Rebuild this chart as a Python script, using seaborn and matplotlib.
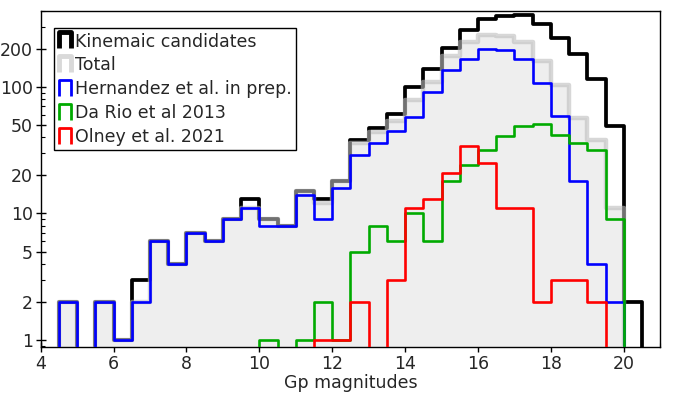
import numpy as np
import pandas as pd
import matplotlib
matplotlib.use("Agg")
import matplotlib.pyplot as plt
import seaborn as sns
from matplotlib.path import Path
from matplotlib.lines import Line2D
from matplotlib.ticker import FixedLocator, NullFormatter, LogLocator, MultipleLocator, FixedFormatter

# ---- data: counts per 0.5-mag bin, first bin starts at 4.5 ----
bin_start = 4.5
bin_width = 0.5
kinematic = [2, 0, 2, 1, 3, 6, 4, 7, 6, 9, 13, 9, 8, 15, 13, 18, 38, 47, 61, 99,
             138, 203, 280, 342, 361, 367, 312, 245, 183, 115, 49, 2]
total = [2, 0, 2, 1, 2, 6, 4, 7, 6, 9, 11, 9, 8, 15, 12, 18, 36, 44, 54, 79,
         110, 174, 226, 259, 252, 227, 160, 104, 57, 38, 11, 0]
hernandez = [2, 0, 2, 1, 2, 6, 4, 7, 6, 9, 11, 8, 8, 14, 9, 16, 29, 36, 45, 58,
             91, 135, 167, 201, 197, 167, 107, 59, 18, 4, 2, 0]
dario = [0, 0, 0, 0, 0, 0, 0, 0, 0, 0, 0, 1, 0, 1, 2, 1, 5, 8, 6, 10,
         6, 18, 24, 32, 41, 49, 51, 42, 36, 32, 9, 0]
olney = [0, 0, 0, 0, 0, 0, 0, 0, 0, 0, 0, 0, 0, 0, 1, 1, 2, 0, 3, 11,
         13, 21, 34, 25, 11, 11, 2, 3, 3, 2, 0, 0]
labels = ["Kinemaic candidates", "Total", "Hernandez et al. in prep.",
          "Da Rio et al 2013", "Olney et al. 2021"]
y_ticks = [1, 2, 5, 10, 20, 50, 100, 200]
x_ticks = [4, 6, 8, 10, 12, 14, 16, 18, 20]

sns.set_style("ticks")
plt.rcParams["font.family"] = ["DejaVu Sans"]
FS = 12.5

fig = plt.figure(figsize=(6.73, 3.97), dpi=100)
ax = fig.add_axes([0.0605, 0.126, 0.9205, 0.847])
ax.set_yscale("log")

n = len(kinematic)
edges = [float(e) for e in bin_start - bin_width + bin_width * np.arange(n + 3)]
centers = [(a + b) / 2 for a, b in zip(edges[:-1], edges[1:])]


def frame(values):
    return pd.DataFrame({"mag": centers,
                         "count": [0] + list(values) + [0]})


# Total: filled area
sns.histplot(data=frame(total), x="mag", weights="count", bins=edges,
             element="step", fill=True, color="#eeeeee", alpha=1,
             linewidth=0, ax=ax, zorder=1)
# Kinematic candidates
sns.histplot(data=frame(kinematic), x="mag", weights="count", bins=edges,
             element="step", fill=False, color="black", linewidth=2.7,
             ax=ax, zorder=2)
# Total outline (semi-transparent)
sns.histplot(data=frame(total), x="mag", weights="count", bins=edges,
             element="step", fill=False, color=(0.74, 0.74, 0.74),
             alpha=0.6, linewidth=3.2, ax=ax, zorder=3)
series = [(hernandez, "#0000ff"), (dario, "#00aa00"), (olney, "#ff0000")]
for i, (vals, col) in enumerate(series):
    sns.histplot(data=frame(vals), x="mag", weights="count", bins=edges,
                 element="step", fill=False, color=col, linewidth=1.9,
                 ax=ax, zorder=4 + i)

ax.set_xlim(4, 21)
ax.set_ylim(0.88, 400)
ax.set_ylabel("")
ax.set_xlabel("Gp magnitudes", fontsize=FS, labelpad=1)

ax.xaxis.set_major_locator(FixedLocator(x_ticks))
ax.xaxis.set_minor_locator(MultipleLocator(0.5))
ax.yaxis.set_major_locator(FixedLocator(y_ticks))
ax.yaxis.set_major_formatter(FixedFormatter([str(v) for v in y_ticks]))
ax.yaxis.set_minor_locator(LogLocator(base=10, subs=(3, 4, 6, 7, 8, 9), numticks=20))
ax.yaxis.set_minor_formatter(NullFormatter())

for s in ax.spines.values():
    s.set_visible(True)
    s.set_color("black")
    s.set_linewidth(1.0)

ax.tick_params(which="major", direction="inout", length=7, width=1,
               labelsize=FS, color="black", top=False, right=False, pad=2)
ax.tick_params(which="minor", direction="in", length=3, width=0.8,
               color="black", top=False, right=False)

# legend with bracket-shaped handles
bracket = Path([(-0.4, -0.5), (-0.4, 0.5), (0.4, 0.5), (0.4, -0.5)],
               [Path.MOVETO, Path.LINETO, Path.LINETO, Path.LINETO])
handle_styles = [("black", 3.5), ((0.85, 0.85, 0.85), 3.5),
                 ("#0000ff", 2.0), ("#00aa00", 2.0), ("#ff0000", 2.0)]
handles = [Line2D([], [], linestyle="none", marker=bracket, markersize=11,
                  markerfacecolor="none", markeredgecolor=c,
                  markeredgewidth=w)
           for c, w in handle_styles]
leg = ax.legend(handles, labels, loc="upper left",
                bbox_to_anchor=(0.022, 0.948), borderaxespad=0,
                fontsize=FS, frameon=True, fancybox=False, shadow=False,
                framealpha=1, edgecolor="black", handlelength=0.7,
                handletextpad=0.25, labelspacing=0.34, borderpad=0.25)
leg.get_frame().set_linewidth(1.0)
leg.set_zorder(10)

fig.savefig("out.png", dpi=100)
